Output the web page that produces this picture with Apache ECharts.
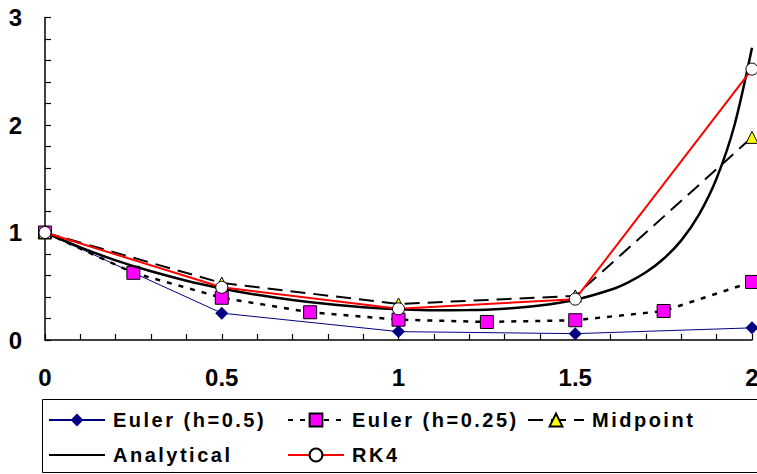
<!DOCTYPE html>
<html><head><meta charset="utf-8">
<script src="https://cdn.jsdelivr.net/npm/echarts@6/dist/echarts.min.js"></script>
<style>html,body{margin:0;padding:0;background:#fff;overflow:hidden}#c{width:757px;height:474px}</style>
</head><body><div id="c"></div>
<script>
const xHalf = [0, 0.5, 1, 1.5, 2];
const eulerHalf = [1, 0.25, 0.078, 0.059, 0.113];
const xQuarter = [0, 0.25, 0.5, 0.75, 1, 1.25, 1.5, 1.75, 2];
const eulerQuarter = [1, 0.625, 0.393, 0.258, 0.189, 0.168, 0.184, 0.27, 0.54];
const midpoint = [1, 0.53, 0.335, 0.41, 1.885];
const rk4 = [1, 0.49, 0.29, 0.38, 2.52];
const xAnalytical = [0, 0.1, 0.2, 0.3, 0.4, 0.5, 0.6, 0.7, 0.8, 0.9, 1.0, 1.1, 1.2, 1.3, 1.4, 1.5, 1.6, 1.65, 1.7, 1.75, 1.8, 1.85, 1.9, 1.95, 2.0];
const analytical = [1, 0.861, 0.741, 0.639, 0.552, 0.480, 0.420, 0.372, 0.334, 0.305, 0.287, 0.277, 0.278, 0.291, 0.320, 0.374, 0.467, 0.537, 0.630, 0.756, 0.927, 1.166, 1.504, 1.993, 2.718];
const xTickLabels = ['0', '0.5', '1', '1.5', '2'];
const yTickLabels = ['0', '1', '2', '3'];
const seriesNames = ['Euler (h=0.5)', 'Euler (h=0.25)', 'Midpoint', 'Analytical', 'RK4'];

const pair = (xs, ys) => xs.map((x, i) => [x, ys[i]]);
const FONT = '"Liberation Sans", Arial, sans-serif';

const chart = echarts.init(document.getElementById('c'), null, {renderer: 'svg'});
const legendText = {fontFamily: FONT, fontWeight: 'bold', fontSize: 20, color: '#000', padding: [0, 0, 0, 3]};
const legendCommon = {orient: 'vertical', top: 410, itemWidth: 56, itemHeight: 16, itemGap: 15, textStyle: legendText, padding: 0};

chart.setOption({
  animation: false,
  backgroundColor: '#fff',
  grid: {left: 45, right: 5, top: 17.5, bottom: 134, containLabel: false, outerBoundsMode: 'none'},
  xAxis: {
    type: 'value', min: 0, max: 2, interval: 0.1,
    axisLine: {lineStyle: {color: '#000', width: 1.5}},
    axisTick: {inside: true, length: 6, lineStyle: {color: '#000', width: 1.2}},
    splitLine: {show: false},
    axisLabel: {
      margin: 25, fontFamily: FONT, fontWeight: 'bold', fontSize: 24, color: '#000',
      showMaxLabel: true, hideOverlap: false,
      formatter: v => { const k = Math.round(v * 10); return k % 5 === 0 ? xTickLabels[k / 5] : ''; }
    }
  },
  yAxis: {
    type: 'value', min: 0, max: 3, interval: 0.2,
    axisLine: {show: true, lineStyle: {color: '#000', width: 1.5}},
    axisTick: {show: true, inside: true, length: 6, lineStyle: {color: '#000', width: 1.2}},
    splitLine: {show: false},
    axisLabel: {
      margin: 23, fontFamily: FONT, fontWeight: 'bold', fontSize: 24, color: '#000',
      formatter: v => { const k = Math.round(v * 10); return k % 10 === 0 ? yTickLabels[k / 10] : ''; }
    }
  },
  legend: [
    Object.assign({left: 48, data: [seriesNames[0], {name: seriesNames[3], itemStyle: {opacity: 0}}]}, legendCommon),
    Object.assign({left: 287, data: [seriesNames[1], seriesNames[4]]}, legendCommon),
    Object.assign({left: 527, data: [seriesNames[2]]}, legendCommon)
  ],
  graphic: [{
    type: 'rect', shape: {x: 42.5, y: 399.5, width: 720, height: 73},
    style: {fill: 'none', stroke: '#000', lineWidth: 1}, silent: true
  }],
  series: [
    {
      name: seriesNames[0], type: 'line', data: pair(xHalf, eulerHalf),
      symbol: 'diamond', symbolSize: 13,
      lineStyle: {color: '#000080', width: 1},
      itemStyle: {color: '#000080', borderColor: '#000080', borderWidth: 0},
      z: 2
    },
    {
      name: seriesNames[1], type: 'line', data: pair(xQuarter, eulerQuarter),
      symbol: 'rect', symbolSize: 13,
      lineStyle: {color: '#000', width: 2.5, type: [5, 7]},
      itemStyle: {color: '#ff00ff', borderColor: '#000', borderWidth: 1},
      z: 3
    },
    {
      name: seriesNames[2], type: 'line', data: pair(xHalf, midpoint),
      symbol: 'triangle', symbolSize: 12,
      lineStyle: {color: '#000', width: 2, type: [15, 8]},
      itemStyle: {color: '#ffff00', borderColor: '#000', borderWidth: 1},
      z: 4
    },
    {
      name: seriesNames[3], type: 'line', data: pair(xAnalytical, analytical),
      symbol: 'none', smooth: 0.3,
      lineStyle: {color: '#000', width: 2.5},
      itemStyle: {color: '#000'},
      z: 5
    },
    {
      name: seriesNames[4], type: 'line', data: pair(xHalf, rk4),
      symbol: 'circle', symbolSize: 12,
      lineStyle: {color: '#ff0000', width: 2},
      itemStyle: {color: '#ffffff', borderColor: '#000', borderWidth: 1},
      z: 6
    }
  ]
});

function spaceLegendText() {
  document.querySelectorAll('#c svg text').forEach(t => {
    if (seriesNames.indexOf(t.textContent) >= 0) {
      t.setAttribute('letter-spacing', '2.5');
      t.style.letterSpacing = '2.5px';
    }
  });
}
spaceLegendText();
chart.on('finished', spaceLegendText);
setTimeout(spaceLegendText, 0);
</script></body></html>
